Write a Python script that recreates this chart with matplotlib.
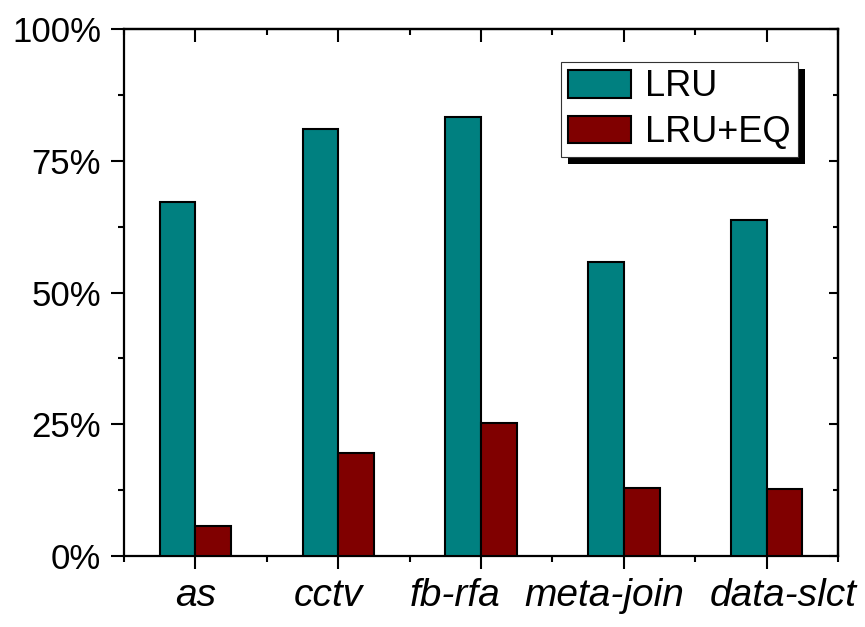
import numpy as np
import matplotlib
matplotlib.use("Agg")
import matplotlib.pyplot as plt
import matplotlib.transforms as mtransforms
from matplotlib.patches import Rectangle
from matplotlib.ticker import MultipleLocator, PercentFormatter

plt.rcParams['font.family'] = ['Liberation Sans', 'DejaVu Sans']

# hit ratio per workload
workloads = ["as", "cctv", "fb-rfa", "meta-join", "data-slct"]
lru = [67.2, 81.0, 83.4, 55.7, 63.8]
lru_eq = [5.7, 19.5, 25.3, 13.0, 12.8]

teal = "#008080"
maroon = "#800000"

fig = plt.figure(figsize=(8.65, 6.27), dpi=100)
ax = fig.add_axes([0.1434, 0.1132, 0.8254, 0.8405])

x = np.arange(len(workloads))
w = 0.25
ax.bar(x - w / 2, lru, w, color=teal, edgecolor="black", linewidth=1.5, label="LRU", zorder=3)
ax.bar(x + w / 2, lru_eq, w, color=maroon, edgecolor="black", linewidth=1.5, label="LRU+EQ", zorder=3)

ax.set_xlim(-0.5, len(workloads) - 0.5)
ax.set_ylim(0, 100)
ax.set_xticks(x)
ax.set_xticklabels(workloads, fontstyle="italic", fontsize=28)
ax.xaxis.set_minor_locator(MultipleLocator(1, offset=0.5))
ax.yaxis.set_major_locator(MultipleLocator(25))
ax.yaxis.set_minor_locator(MultipleLocator(12.5))
ax.yaxis.set_major_formatter(PercentFormatter(decimals=0))
ax.tick_params(axis="both", which="major", direction="out", length=9.5, width=1.5)
ax.tick_params(axis="both", which="minor", direction="out", length=4.5, width=1.5)
ax.tick_params(axis="x", which="major", pad=6)
ax.tick_params(axis="y", which="major", pad=7, labelsize=25)
for s in ax.spines.values():
    s.set_linewidth(1.6)

# nudge the long category names apart so they don't collide
shifts = [0, -7, -19, -14, 12]
for lbl, sh in zip(ax.get_xticklabels(), shifts):
    lbl.set_transform(lbl.get_transform() +
                      mtransforms.ScaledTranslation(sh / 72, 0, fig.dpi_scale_trans))

# inward ticks on the top and right edges
top = ax.secondary_xaxis("top")
top.set_xticks(x)
top.xaxis.set_minor_locator(MultipleLocator(1, offset=0.5))
top.tick_params(which="major", direction="in", length=9, width=1.5, labeltop=False)
top.tick_params(which="minor", direction="in", length=4.5, width=1.5)
right = ax.secondary_yaxis("right")
right.yaxis.set_major_locator(MultipleLocator(25))
right.yaxis.set_minor_locator(MultipleLocator(12.5))
right.tick_params(which="major", direction="in", length=6.5, width=1.5, labelright=False)
right.tick_params(which="minor", direction="in", length=3.5, width=1.5)
for s in list(top.spines.values()) + list(right.spines.values()):
    s.set_linewidth(1.6)

leg = ax.legend(loc="upper left", bbox_to_anchor=(0.612, 0.9374), fontsize=26,
                frameon=True, fancybox=False, framealpha=1, borderpad=0.2,
                handlelength=1.75, handleheight=0.8, handletextpad=0.38,
                labelspacing=0.3, borderaxespad=0)
leg.get_frame().set_edgecolor("#333333")
leg.get_frame().set_linewidth(0.8)
for h in leg.legend_handles:
    h.set_linewidth(1.5)

# solid drop shadow behind the legend box
fig.canvas.draw()
bb = leg.get_window_extent().transformed(fig.transFigure.inverted())
dx, dy = 7 / fig.bbox.width, 7 / fig.bbox.height
shadow = Rectangle((bb.x0 + dx, bb.y0 - dy), bb.width, bb.height,
                   transform=fig.transFigure, facecolor="black", edgecolor="none", zorder=4)
ax.add_artist(shadow)
shadow.set_clip_on(False)
leg.set_zorder(5)

fig.savefig("out.png", dpi=100)
